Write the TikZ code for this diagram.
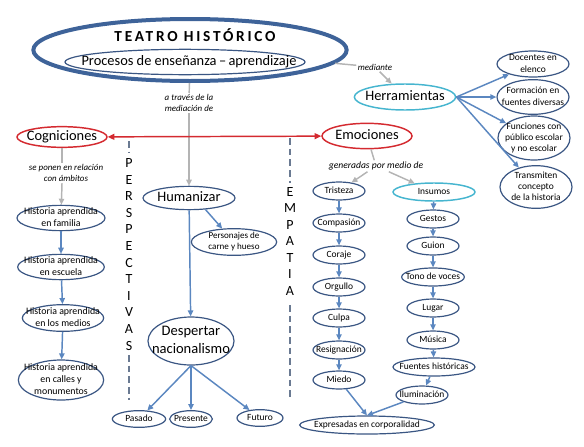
\documentclass[tikz,border=0pt]{standalone}
\usepackage{fontspec}
\setmainfont{Carlito}
\usetikzlibrary{shapes.geometric,arrows.meta}
\definecolor{borde}{HTML}{3A5683}
\definecolor{azul}{HTML}{5B87C0}
\definecolor{marino}{HTML}{3E6399}
\definecolor{rojo}{HTML}{D42A30}
\definecolor{celeste}{HTML}{46B5CF}
\definecolor{grisl}{HTML}{B4B4B4}
\definecolor{grisa}{HTML}{6A7A92}
% texto sin tamano propio: la elipse sigue a minimum width/height
\newcommand{\caja}[1]{\smash{\raisebox{-0.55ex}{\makebox[0pt]{\begin{tabular}{@{}c@{}}#1\end{tabular}}}}}
\begin{document}
\begin{tikzpicture}[x=0.75pt,y=-0.75pt,
  elip/.style={ellipse,draw=borde,line width=0.9pt,inner sep=0pt,font=\fontsize{7.1}{8.5}\selectfont},
  hist/.style={elip,font=\fontsize{7.4}{8.7}\selectfont},
  grande/.style={elip,font=\fontsize{10.8}{12.8}\selectfont},
  roja/.style={grande,draw=rojo,line width=1.1pt},
  cian/.style={elip,draw=celeste,line width=1.1pt},
  nota/.style={align=center,inner sep=1pt,font=\fontsize{6.7}{8.2}\selectfont\itshape},
  letra/.style={inner sep=0pt,font=\fontsize{10.5}{10.5}\selectfont},
  flecha/.style={draw=azul,line width=1.1pt,-{Triangle[length=4.5pt,width=4pt]}},
  gris/.style={draw=grisl,line width=1.1pt},
  grisf/.style={gris,-{Triangle[length=4.5pt,width=4pt]}},
  guion/.style={draw=grisa,line width=0.8pt,dash pattern=on 5pt off 3pt}]

\useasboundingbox (0,0) rectangle (584,446);

% titulo
\node[ellipse,draw=marino,line width=3pt,minimum width=235pt,minimum height=46.5pt] (teatro) at (190,50) {};
\node[font=\fontsize{11.5}{13}\selectfont\bfseries\addfontfeature{LetterSpace=18}] (tit) at (195,35) {TEATRO HISTÓRICO};
\node[elip,font=\fontsize{10.8}{12}\selectfont,minimum width=180pt,minimum height=19pt] (proc) at (185,62) {\caja{\hspace*{6pt}Procesos de enseñanza\,–\,aprendizaje}};

\node[nota] (trav) at (189,103) {a través de la\\mediación de};
\node[nota] (medi) at (375,67) {mediante};

\node[grande,draw=celeste,line width=1.1pt,minimum width=76pt,minimum height=19.5pt] (herr) at (405,97) {\caja{Herramientas}};
\node[elip,minimum width=54pt,minimum height=19.5pt] (doc) at (533,64) {\caja{Docentes en\\elenco}};
\node[elip,minimum width=54pt,minimum height=26pt] (form) at (533,97) {\caja{Formación en\\fuentes diversas}};
\node[elip,minimum width=54pt,minimum height=33pt] (fun) at (534,138) {\caja{Funciones con\\público escolar\\y no escolar}};
\node[elip,minimum width=54pt,minimum height=32pt] (tra) at (536,187) {\caja{Transmiten\\concepto\\de la historia}};

% cogniciones
\node[roja,minimum width=67.5pt,minimum height=15.5pt] (cog) at (62,137) {\caja{Cogniciones}};
\node[nota] (rel) at (66,173) {se ponen en relación\\con ámbitos};
\node[hist,minimum width=66pt,minimum height=19pt] (fam) at (61,218) {\caja{Historia aprendida\\en familia}};
\node[hist,minimum width=65pt,minimum height=19pt] (esc) at (61,267) {\caja{Historia aprendida\\en escuela}};
\node[hist,minimum width=61pt,minimum height=20pt] (medios) at (63,318) {\caja{Historia aprendida\\en los medios}};
\node[hist,minimum width=64pt,minimum height=30pt] (cal) at (61,380) {\caja{Historia aprendida\\en calles y\\monumentos}};

% centro
\node[grande,minimum width=69pt,minimum height=17.5pt] (hum) at (189,198) {\caja{Humanizar}};
\node[elip,font=\fontsize{6.8}{8.2}\selectfont,minimum width=64pt,minimum height=20pt] (pers) at (234,242) {\caja{Personajes de\\carne y hueso}};
\node[grande,font=\fontsize{10.9}{13.6}\selectfont,minimum width=64.5pt,minimum height=36pt] (desp) at (191,341) {\caja{Despertar\\nacionalismo}};
\node[elip,minimum width=40pt,minimum height=12.5pt] (pas) at (139,419) {\caja{Pasado}};
\node[elip,minimum width=32pt,minimum height=12.5pt] (pre) at (191,419) {\caja{Presente}};
\node[elip,minimum width=34.5pt,minimum height=12.5pt] (fut) at (260,418) {\caja{Futuro}};

% emociones
\node[roja,minimum width=67.5pt,minimum height=19pt] (emo) at (367,136) {\caja{Emociones}};
\node[nota,font=\fontsize{7.2}{8.2}\selectfont\itshape] (gen) at (376,166) {generadas por medio de};

\node[elip,minimum width=39pt,minimum height=13.5pt] (tri) at (339,191) {\caja{Tristeza}};
\node[elip,minimum width=39pt,minimum height=13.5pt] (com) at (339,223) {\caja{Compasión}};
\node[elip,minimum width=39pt,minimum height=13.5pt] (cor) at (339,255) {\caja{Coraje}};
\node[elip,minimum width=39pt,minimum height=13.5pt] (org) at (339,287) {\caja{Orgullo}};
\node[elip,minimum width=39pt,minimum height=13.5pt] (cul) at (339,318) {\caja{Culpa}};
\node[elip,minimum width=39pt,minimum height=13.5pt] (res) at (339,350) {\caja{Resignación}};
\node[elip,minimum width=39pt,minimum height=13.5pt] (mie) at (339,380) {\caja{Miedo}};

\node[cian,minimum width=61.5pt,minimum height=13.5pt] (ins) at (434,192) {\caja{Insumos}};
\node[elip,minimum width=39pt,minimum height=13.5pt] (ges) at (433,219) {\caja{Gestos}};
\node[elip,minimum width=39pt,minimum height=13.5pt] (gui) at (433,246) {\caja{Guion}};
\node[elip,minimum width=47pt,minimum height=13.5pt] (ton) at (433,277) {\caja{Tono de voces}};
\node[elip,minimum width=39pt,minimum height=13.5pt] (lug) at (433,308) {\caja{Lugar}};
\node[elip,minimum width=39pt,minimum height=13.5pt] (mus) at (433,340) {\caja{Música}};
\node[elip,minimum width=61.5pt,minimum height=13.5pt] (fue) at (434,367) {\caja{Fuentes históricas}};
\node[elip,minimum width=39pt,minimum height=13.5pt] (ilu) at (422,395) {\caja{Iluminación}};

\node[elip,minimum width=101pt,minimum height=13.5pt] (exp) at (367,425) {\caja{Expresadas en corporalidad}};

% letras verticales
\foreach \l [count=\i] in {P,E,R,S,P,E,C,T,I,V,A,S}
  \node[letra] (per\i) at (129,163+16.6*\i-16.6) {\l};
\foreach \l [count=\i] in {E,M,P,A,T,I,A}
  \node[letra] (emp\i) at (290,192+16.5*\i-16.5) {\l};

\draw[guion] (129,141) -- (129,152);
\draw[guion] (129,355) -- (129,400);
\draw[guion] (290,138) -- (290,183);
\draw[guion] (290,305) -- (290,398);

% conectores grises
\draw[gris] (teatro) -- (trav);
\draw[grisf] (trav) -- (hum);
\draw[gris] (teatro) -- (medi);
\draw[grisf] (medi) -- (herr);
\draw[gris] (cog) -- (cog |- rel.north);
\draw[grisf] (cog |- rel.south) -- (fam);
\draw[gris] (emo) -- (gen);
\draw[grisf] (gen) -- (tri);
\draw[grisf] (gen) -- (ins);

% red
\draw[draw=rojo,line width=1.1pt,{Triangle[length=5pt,width=4.5pt]}-{Triangle[length=5pt,width=4.5pt]}] (cog) -- (emo);

% flechas azules
\foreach \b in {doc,form,fun,tra}
  \draw[flecha] (herr.east) -- (\b);
\foreach \a/\b in {fam/esc,esc/medios,medios/cal,hum/desp,tri/com,com/cor,cor/org,org/cul,cul/res,res/mie,ins/ges,ges/gui,gui/ton,ton/lug,lug/mus,mus/fue,fue/ilu}
  \draw[flecha] (\a) -- (\b);
\draw[flecha] (hum.-35) -- (pers);
\foreach \b in {pas,pre,fut}
  \draw[flecha] (desp.south) -- (\b);
\draw[flecha] (mie) -- (exp.north);
\draw[flecha] (ilu) -- (exp.north);

\end{tikzpicture}
\end{document}
